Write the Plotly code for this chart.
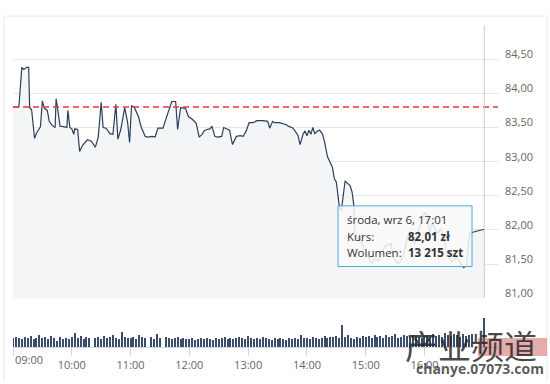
import plotly.graph_objects as go
import pandas as pd

DAY = "2023-09-06 "

# ---- price (Kurs) ----
price_times = ["09:00","09:06","09:09","09:11","09:14","09:16","09:17","09:19","09:22","09:24",
               "09:28","09:30","09:32","09:35","09:37","09:40","09:43","09:44","09:46","09:48",
               "09:53","09:55","09:56","09:58","10:00","10:02","10:03","10:06","10:08","10:11",
               "10:16","10:20","10:24","10:27","10:30","10:32","10:35","10:39","10:42","10:45",
               "10:47","10:50","10:54","10:57","10:59","11:01","11:04","11:08","11:11","11:15",
               "11:18","11:22","11:25","11:28","11:33","11:37","11:42","11:46","11:48","11:51",
               "11:56","11:59","12:03","12:07","12:10","12:13","12:15","12:18","12:21","12:23",
               "12:26","12:29","12:33","12:35","12:39","12:41","12:44","12:48","12:52","12:55",
               "12:58","13:01","13:05","13:09","13:15","13:20","13:22","13:25","13:27","13:32",
               "13:39","13:41","13:46","13:51","13:53","13:56","13:58","14:00","14:02","14:04",
               "14:06","14:08","14:11","14:13","14:16","14:18","14:21","14:26","14:28","14:30",
               "14:33","14:35","14:39","14:40","14:44","14:46","14:48","14:49","14:52","14:54",
               "14:59","15:06","15:09","15:13","15:20","15:26","15:28","15:33","15:38","15:42",
               "15:45","15:50","15:55","16:00","16:03","16:05","16:08","16:13","16:17","16:21",
               "16:24","16:28","16:33","16:37","16:40","16:43","16:46","16:50","17:01"]
price_values = [83.80,83.80,84.38,84.35,84.38,84.38,83.79,83.76,83.34,83.42,
                83.51,83.89,83.78,83.75,83.59,83.53,83.50,83.92,83.73,83.52,
                83.51,83.50,83.75,83.50,83.48,83.40,83.48,83.47,83.15,83.24,
                83.32,83.30,83.21,83.36,83.87,83.50,83.49,83.41,83.40,83.84,
                83.33,83.47,83.79,83.57,83.28,83.82,83.79,83.66,83.50,83.37,
                83.36,83.37,83.36,83.49,83.49,83.65,83.88,83.88,83.47,83.79,
                83.78,83.66,83.62,83.56,83.36,83.40,83.45,83.47,83.48,83.52,
                83.37,83.36,83.37,83.50,83.47,83.46,83.25,83.37,83.38,83.37,
                83.45,83.57,83.57,83.60,83.60,83.59,83.49,83.59,83.57,83.57,
                83.54,83.52,83.49,83.38,83.25,83.40,83.45,83.38,83.46,83.40,
                83.50,83.41,83.45,83.46,83.40,83.29,83.07,82.92,82.75,82.70,
                82.35,82.28,82.72,82.70,82.65,82.56,82.35,81.95,81.87,81.90,
                81.70,81.51,81.58,81.55,81.77,81.80,81.60,81.50,81.60,81.87,
                81.98,81.80,82.05,82.25,82.22,81.95,82.10,81.95,82.02,81.77,
                81.62,81.54,81.60,81.52,81.45,81.48,81.95,81.97,82.01]

prev_close = 83.80

# ---- volume (Wolumen), one bar per 3 minutes 09:00-16:48, then closing auction ----
volume_session = [4100,4550,4100,3600,4550,4100,5000,3600,4100,5450,4100,4550,3600,5000,4100,2700,4550,3600,4100,3600,
                  4550,6350,4100,5000,3600,4550,4100,0,4100,4550,3600,5000,4100,4550,5450,4100,3600,6800,4550,4100,
                  4100,4550,3600,5450,4550,4100,0,4550,3600,5900,4100,0,4550,4100,3600,4100,4550,3600,4100,3600,
                  3600,4100,3200,3600,4100,3600,4100,3600,3200,4100,3600,4100,4550,3600,4100,3600,4100,4550,4100,3600,
                  5000,4100,3600,4100,3600,4550,4100,3600,3200,4100,3600,4100,3600,3200,4100,3600,4100,3600,5450,4100,
                  4100,3600,4550,4100,3600,4100,5000,4100,4550,4550,5000,4100,10000,4550,5450,4100,3600,4550,4100,5000,
                  4550,5000,4100,5450,4550,5000,4100,5450,4550,5000,5900,4100,4550,5450,5000,4550,5450,5000,4550,4100,
                  5000,5450,4550,5900,5000,5450,4550,6350,5450,5000,5900,5450,4550,5900,5000,5450,5900]
auction_time = "17:01"
auction_volume = 13215

hour_ticks = ["09:00","10:00","11:00","12:00","13:00","14:00","15:00","16:00"]
hour_text = ["", "10:00","11:00","12:00","13:00","14:00","15:00","16:00"]
price_ticks = [81.0,81.5,82.0,82.5,83.0,83.5,84.0,84.5,85.0]
price_text = ["81,00","81,50","82,00","82,50","83,00","83,50","84,00","84,50",""]

tooltip_title = "środa, wrz 6, 17:01"
tooltip_rows = [("Kurs:", "82,01 zł"), ("Wolumen:", "13 215 szt")]

# ---- build ----
px_times = pd.to_datetime([DAY + t for t in price_times])
vol_times = list(pd.date_range(DAY + "09:00", periods=len(volume_session), freq="3min")) + [pd.Timestamp(DAY + auction_time)]
vol_values = volume_session + [auction_volume]

W, H = 550, 384
L, R, T, B = 13, 52, 25, 35
PW, PH = W - L - R, H - T - B


def fx(xp):
    return (xp - L) / PW


def fy(yp):
    return (H - B - yp) / PH


LINE = "#2b3f5c"
FONT = "Open Sans"

fig = go.Figure()
fig.add_trace(go.Scatter(x=px_times, y=price_values, mode="lines",
                         line=dict(color=LINE, width=1.2), fill="tozeroy",
                         fillcolor="#f4f5f7", xaxis="x", yaxis="y", hoverinfo="skip"))
fig.add_trace(go.Bar(x=vol_times, y=vol_values, width=65000, marker=dict(color="#3b4d69", line=dict(width=0)),
                     xaxis="x", yaxis="y2", hoverinfo="skip"))

shapes = []
# previous close
shapes.append(dict(type="line", xref="paper", x0=0, x1=1, yref="y", y0=prev_close, y1=prev_close,
                   line=dict(color="#ff3030", width=1.4, dash="6px,4px"), layer="above"))
# crosshair
shapes.append(dict(type="line", xref="x", x0=DAY + auction_time, x1=DAY + auction_time, yref="y", y0=81, y1=85,
                   line=dict(color="#cccccc", width=1), layer="above"))
# outer frame
for (x0, y0, x1, y1) in [(4, 16, 4, 384), (4, 16, 547, 16), (547, 16, 547, 384)]:
    shapes.append(dict(type="line", xref="paper", yref="paper", x0=fx(x0), y0=fy(y0), x1=fx(x1), y1=fy(y1),
                       line=dict(color="#e8e8e8", width=1), layer="above"))
# tooltip box
shapes.append(dict(type="rect", xref="paper", yref="paper", x0=fx(338), x1=fx(472), y0=fy(268), y1=fy(207),
                   fillcolor="rgba(249,249,249,0.86)", line=dict(color="#52a8d8", width=1), layer="above"))
# watermark red patch
shapes.append(dict(type="rect", xref="paper", yref="paper", x0=fx(478), x1=fx(547), y0=fy(358), y1=fy(340),
                   fillcolor="rgba(200,70,70,0.45)", line=dict(width=0), layer="above"))

ann = []
ann.append(dict(text="09:00", xref="paper", yref="paper", x=fx(13), y=fy(362), xanchor="left", yanchor="middle",
                showarrow=False, font=dict(family=FONT, size=11, color="#666666")))
ann.append(dict(text=tooltip_title, xref="paper", yref="paper", x=fx(345), y=fy(221), xanchor="left",
                yanchor="middle", showarrow=False, font=dict(family=FONT, size=11.5, color="#333333")))
for i, (k, v) in enumerate(tooltip_rows):
    yy = 238 + i * 16
    ann.append(dict(text=k, xref="paper", yref="paper", x=fx(345), y=fy(yy), xanchor="left", yanchor="middle",
                    showarrow=False, font=dict(family=FONT, size=11.5, color="#333333")))
    ann.append(dict(text="<b>" + v + "</b>", xref="paper", yref="paper", x=fx(406), y=fy(yy), xanchor="left",
                    yanchor="middle", showarrow=False, font=dict(family=FONT, size=11.5, color="#333333")))
# watermark
ann.append(dict(text="产业频道", xref="paper", yref="paper", x=fx(471), y=fy(347), xanchor="center",
                yanchor="middle", showarrow=False,
                font=dict(family="Noto Sans CJK SC", size=33, color="rgba(40,40,40,0.85)")))
ann.append(dict(text="<b>chanye.07073.com</b>", xref="paper", yref="paper", x=fx(480), y=fy(371),
                xanchor="center", yanchor="middle", showarrow=False,
                font=dict(family=FONT, size=14, color="rgba(60,60,60,0.85)")))

fig.update_layout(
    width=W, height=H, autosize=False,
    margin=dict(l=L, r=R, t=T, b=B, pad=0),
    paper_bgcolor="white", plot_bgcolor="white",
    showlegend=False, hovermode=False, bargap=0,
    font=dict(family=FONT, size=11, color="#666666"),
    xaxis=dict(type="date", range=[DAY + "09:00", DAY + "17:15"], anchor="y2",
               tickvals=[DAY + t for t in hour_ticks], ticktext=hour_text,
               ticks="outside", ticklen=8, tickcolor="#ccd6eb", showline=True, linecolor="#ccd6eb",
               showgrid=False, zeroline=False, tickfont=dict(size=11, color="#666666")),
    yaxis=dict(domain=[fy(300), 1], range=[81, 85], side="right", tickvals=price_ticks, ticktext=price_text,
               showgrid=True, gridcolor="#e6e6e6", gridwidth=1, zeroline=False, showline=False,
               ticks="", ticklabelstandoff=6, ticklabelshift=-5, tickfont=dict(size=11, color="#666666")),
    yaxis2=dict(domain=[0, fy(316)], range=[0, 15000], tickvals=[15000], showticklabels=False,
                showgrid=True, gridcolor="#e6e6e6", zeroline=False, showline=False),
    shapes=shapes, annotations=ann,
)

fig.write_html("out.html", config={"displayModeBar": False},
               post_script="document.body.style.margin='0px';document.body.style.overflow='hidden';")
